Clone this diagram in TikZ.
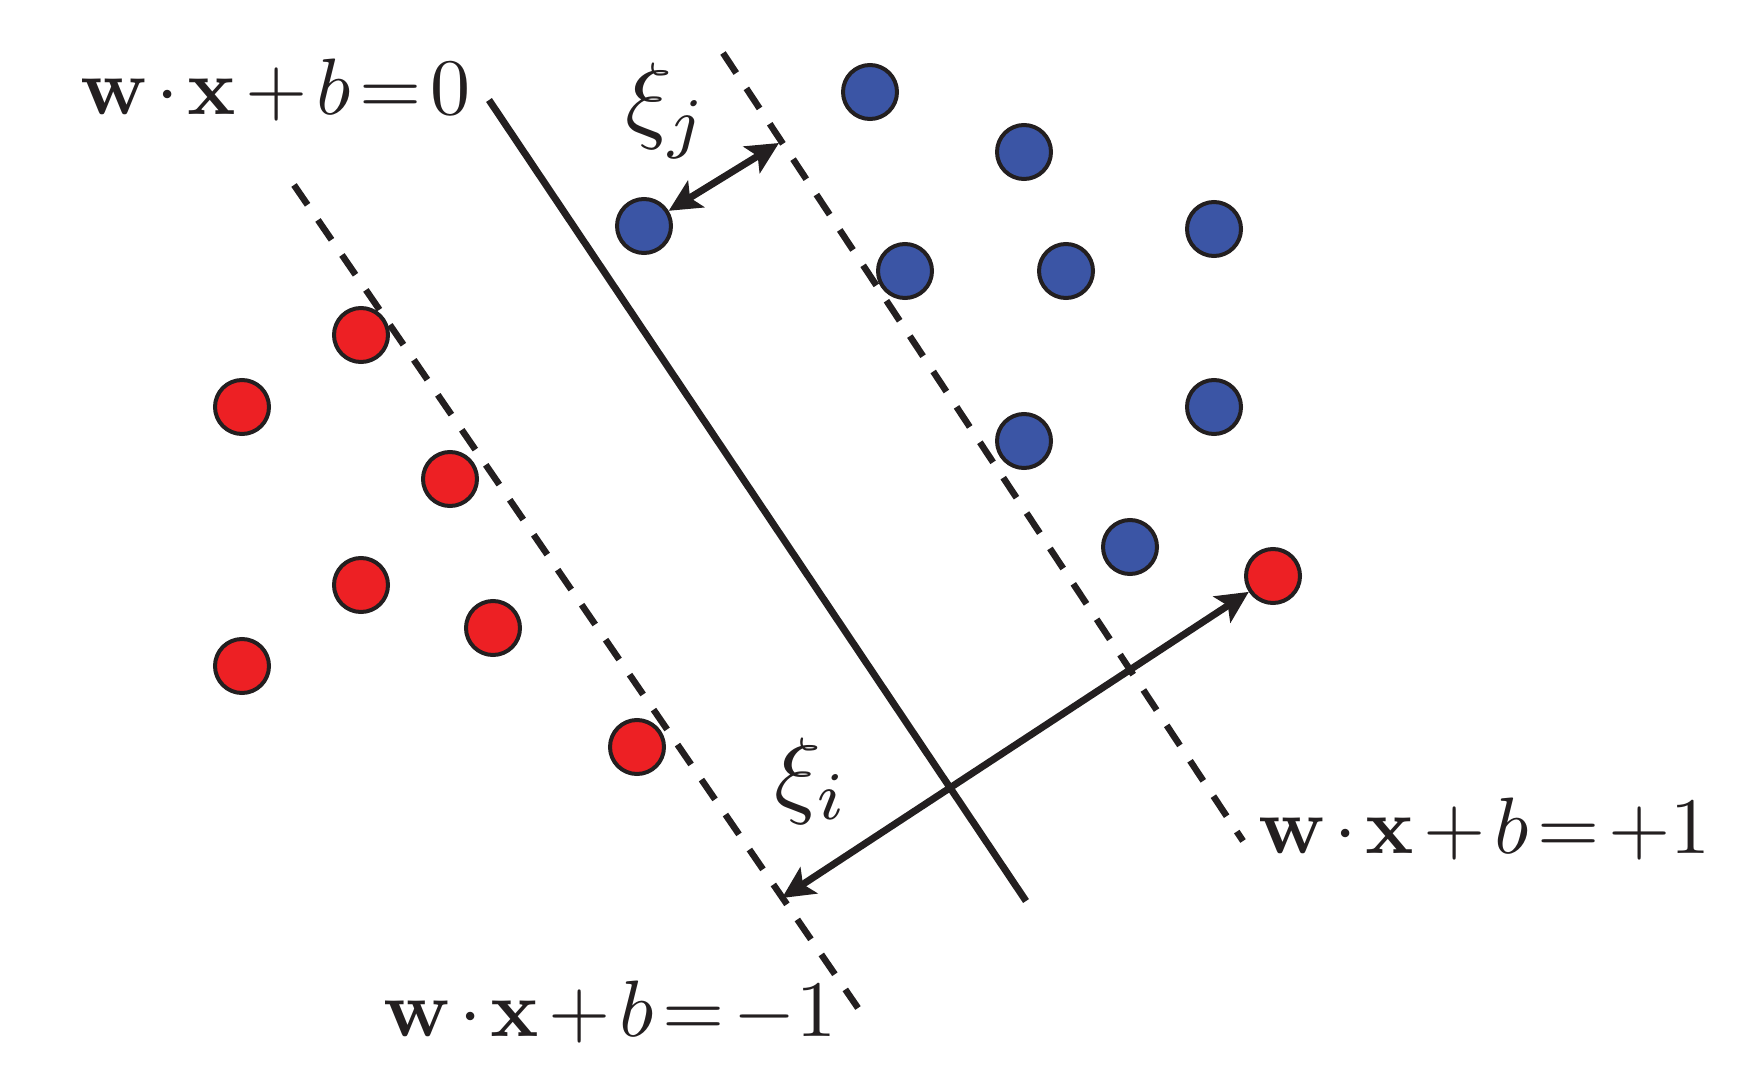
\documentclass[tikz,border=0pt]{standalone}
\usepackage{graphicx}
\usetikzlibrary{arrows.meta}
\definecolor{dotred}{RGB}{237,32,36}
\definecolor{dotblue}{RGB}{59,85,165}
\definecolor{ink}{RGB}{35,31,32}
\medmuskip=2mu
\thickmuskip=2mu
\newcommand{\eqtext}[1]{\scalebox{8}{$#1$}}
\newcommand{\xitext}[1]{\scalebox{9.7}{$#1$}}
\begin{document}
\begin{tikzpicture}[x=1pt,y=-1pt,
  pt/.style={circle,draw=ink,line width=4pt,minimum size=54pt,inner sep=0pt},
  redpt/.style={pt,fill=dotred},
  bluept/.style={pt,fill=dotblue},
  hyper/.style={draw=ink,line width=7pt},
  margin/.style={draw=ink,line width=6.5pt,dash pattern=on 24pt off 18.4pt},
  tipx/.tip={Stealth[length=32pt,width=31pt,inset=7pt]},
  slack/.style={draw=ink,line width=7pt,tipx-tipx},
  lab/.style={inner sep=0pt,anchor=base west,text=ink}]
\useasboundingbox (0,0) rectangle (1758,1078);
% blue points
\node[bluept] (b1) at (870,92) {};
\node[bluept] (b2) at (1024,152) {};
\node[bluept] (b3) at (1214,229) {};
\node[bluept] (bj) at (644,226) {};
\node[bluept] (b5) at (905,271) {};
\node[bluept] (b6) at (1066,271) {};
\node[bluept] (b7) at (1214,407) {};
\node[bluept] (b8) at (1024,441) {};
\node[bluept] (b9) at (1130,547) {};
% red points
\node[redpt] (r1) at (361,335) {};
\node[redpt] (r2) at (242,407) {};
\node[redpt] (r3) at (450,479) {};
\node[redpt] (r4) at (361,585) {};
\node[redpt] (r5) at (493,628) {};
\node[redpt] (r6) at (242,666) {};
\node[redpt] (r7) at (637,747) {};
\node[redpt] (ri) at (1273,576) {};
% hyperplanes
\coordinate (h0a) at (489,100);
\coordinate (h0b) at (1026,901);
\coordinate (hma) at (294,185);
\coordinate (hmb) at (858,1008);
\coordinate (hpa) at (723,53);
\coordinate (hpb) at (1243,841);
\draw[hyper] (h0a) -- (h0b);
\draw[margin] (hma) -- (hmb);
\draw[margin] (hpa) -- (hpb);
% slack arrows
\coordinate (pj) at (779,143);
\coordinate (pi) at (782,898);
\draw[slack] (bj) -- (pj);
\draw[slack] (pi) -- (ri);
% labels
\node[lab] (l0) at (80,115) {\eqtext{\mathbf{w}\cdot\mathbf{x}+b=0}};
\node[lab] (lm) at (383,1036) {\eqtext{\mathbf{w}\cdot\mathbf{x}+b=-1}};
\node[lab] (lp) at (1258,853) {\eqtext{\mathbf{w}\cdot\mathbf{x}+b=+1}};
\node[lab] (xj) at (625,131) {\xitext{\xi_j}};
\node[lab] (xi) at (774,805) {\xitext{\xi_i}};
\end{tikzpicture}
\end{document}
